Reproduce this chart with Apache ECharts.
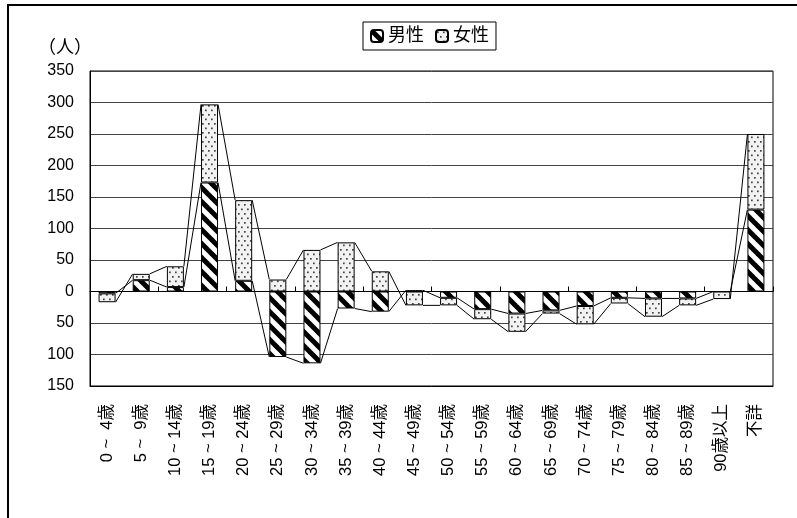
<!DOCTYPE html>
<html>
<head>
<meta charset="utf-8">
<script src="https://cdn.jsdelivr.net/npm/echarts@6/dist/echarts.min.js"></script>
<style>
  html, body { margin: 0; padding: 0; background: #fff; }
  #chart { width: 797px; height: 518px; }
</style>
</head>
<body>
<div id="chart"></div>
<script>
// Age groups
const categories = [
  '0 ~  4歳', '5 ~  9歳', '10 ~ 14歳', '15 ~ 19歳', '20 ~ 24歳',
  '25 ~ 29歳', '30 ~ 34歳', '35 ~ 39歳', '40 ~ 44歳', '45 ~ 49歳',
  '50 ~ 54歳', '55 ~ 59歳', '60 ~ 64歳', '65 ~ 69歳', '70 ~ 74歳',
  '75 ~ 79歳', '80 ~ 84歳', '85 ~ 89歳', '90歳以上', '不詳'
];
// Change in number of people (人)
const male   = [-3, 18, 7, 173, 17, -104, -114, -27, -32, 2, -10, -28, -35, -30, -23, -10, -11, -11, 0, 130];
const female = [-14, 10, 33, 124, 128, 19, 66, 78, 32, -22, -12, -16, -29, -5, -29, -9, -29, -11, -12, 120];
const seriesNames = ['男性', '女性'];
const yTicks = { min: -150, max: 350, step: 50 };
const unitLabel = '（人）';

const FONT = "'Liberation Sans', 'Noto Sans CJK JP', sans-serif";
const BAR_W = 17;

// Wide diagonal hatch fill
function hatchPattern() {
  const P = 14, c = document.createElement('canvas');
  c.width = P; c.height = P;
  const g = c.getContext('2d');
  g.fillStyle = '#fff'; g.fillRect(0, 0, P, P);
  g.strokeStyle = '#000'; g.lineWidth = 5; g.lineCap = 'square';
  for (const off of [-P, 0, P]) {
    g.beginPath(); g.moveTo(0, off); g.lineTo(P, off + P); g.stroke();
  }
  return { image: c, repeat: 'repeat' };
}
// Dotted fill
function dotPattern() {
  const c = document.createElement('canvas');
  c.width = 6; c.height = 9;
  const g = c.getContext('2d');
  g.fillStyle = '#f2f2f2'; g.fillRect(0, 0, 6, 9);
  g.fillStyle = '#444';
  g.fillRect(1, 1.5, 1.7, 1.7);
  g.fillRect(4, 6, 1.7, 1.7);
  return { image: c, repeat: 'repeat' };
}

// Outer end of each stacked segment (values stack on same sign)
function segmentEnds(base, vals) {
  return vals.map((v, i) => {
    const b = base ? base[i] : 0;
    return (b !== 0 && Math.sign(b) === Math.sign(v)) ? b + v : v;
  });
}
function seriesLineData(ends) {
  const out = [];
  for (let i = 0; i < ends.length - 1; i++) out.push([i, ends[i], ends[i + 1]]);
  return out;
}
const maleEnds = segmentEnds(null, male);
const femaleEnds = segmentEnds(male, female);

function renderSeriesLine(params, api) {
  const i = api.value(0);
  const a = api.coord([i, api.value(1)]);
  const b = api.coord([i + 1, api.value(2)]);
  const h = BAR_W / 2;
  return {
    type: 'line',
    shape: { x1: a[0] + h, y1: a[1], x2: b[0] - h, y2: b[1] },
    style: { stroke: '#000', lineWidth: 1 }
  };
}

const chart = echarts.init(document.getElementById('chart'), null, { renderer: 'canvas' });
chart.setOption({
  animation: false,
  textStyle: { fontFamily: FONT, color: '#000' },
  grid: { left: 90, right: 24, top: 71, bottom: 132, show: true, borderColor: '#000', borderWidth: 1, containLabel: false },
  legend: {
    data: seriesNames,
    left: 363, top: 22,
    itemWidth: 12, itemHeight: 12, itemGap: 11,
    padding: [5, 7, 5, 7],
    borderColor: '#000', borderWidth: 1,
    textStyle: { fontSize: 18, fontFamily: FONT, color: '#000' }
  },
  graphic: [
    { type: 'rect', silent: true, z: -10, shape: { x: 8, y: 5, width: 900, height: 600 },
      style: { fill: 'none', stroke: '#000', lineWidth: 2 } },
    { type: 'text', left: 38, top: 39,
      style: { text: unitLabel, fontSize: 18, fontFamily: FONT, fill: '#000' } }
  ],
  xAxis: [
    {
      type: 'category', data: categories, position: 'bottom',
      axisLine: { onZero: false, lineStyle: { color: '#000' } },
      axisTick: { show: false },
      axisLabel: { interval: 0, rotate: 90, margin: 18, fontSize: 16.5, color: '#000', fontFamily: FONT }
    },
    {
      type: 'category', data: categories, position: 'top',
      axisLine: { onZero: true, lineStyle: { color: '#000' } },
      axisTick: { show: true, length: 5, lineStyle: { color: '#000' } },
      axisLabel: { show: false }
    }
  ],
  yAxis: {
    type: 'value', min: yTicks.min, max: yTicks.max, interval: yTicks.step,
    axisLine: { show: true, lineStyle: { color: '#000' } },
    axisTick: { show: false },
    splitLine: { lineStyle: { color: '#444', width: 1 } },
    axisLabel: { fontSize: 16, margin: 16, color: '#000', fontFamily: FONT,
      formatter: v => String(Math.abs(v)) }
  },
  series: [
    { type: 'custom', name: 'line-m', xAxisIndex: 0, renderItem: renderSeriesLine,
      data: seriesLineData(maleEnds), encode: { x: 0, y: [1, 2] }, z: 3, silent: true },
    { type: 'custom', name: 'line-f', xAxisIndex: 0, renderItem: renderSeriesLine,
      data: seriesLineData(femaleEnds), encode: { x: 0, y: [1, 2] }, z: 3, silent: true },
    { type: 'bar', name: seriesNames[0], stack: 'total', xAxisIndex: 0, data: male, barWidth: BAR_W,
      itemStyle: { color: hatchPattern(), borderColor: '#000', borderWidth: 1 } },
    { type: 'bar', name: seriesNames[1], stack: 'total', xAxisIndex: 0, data: female, barWidth: BAR_W,
      itemStyle: { color: dotPattern(), borderColor: '#000', borderWidth: 1 } }
  ]
});
</script>
</body>
</html>
